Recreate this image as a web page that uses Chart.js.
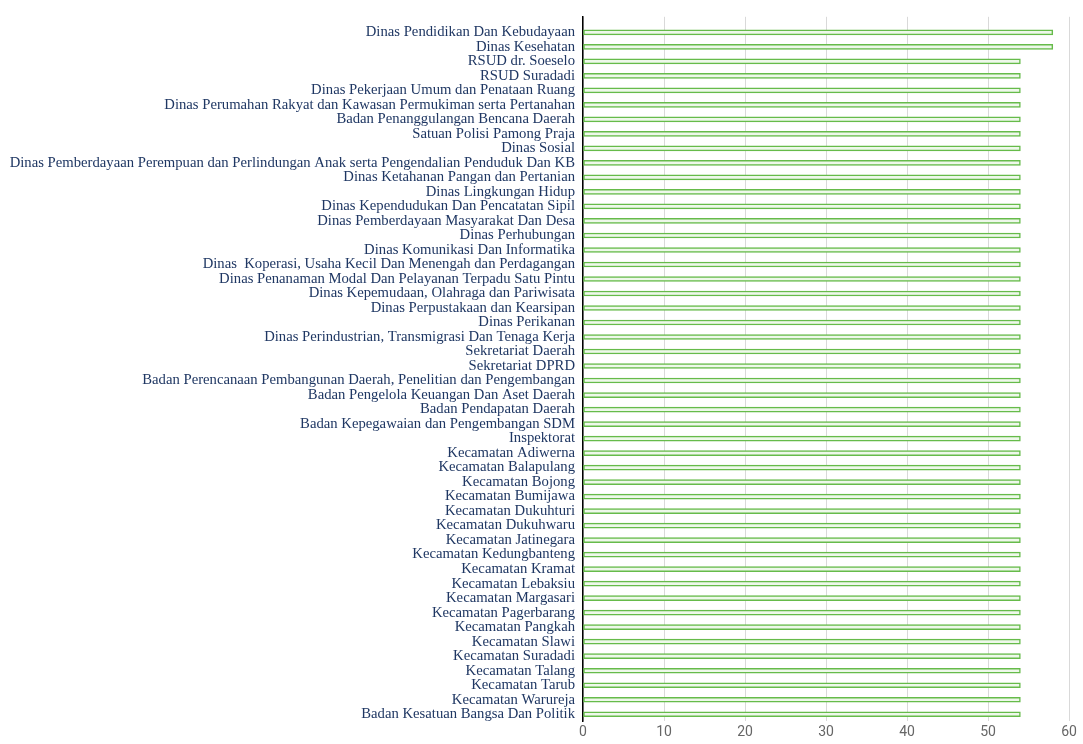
<!DOCTYPE html>
<html>
<head>
<meta charset="utf-8">
<title>Perangkat Daerah</title>
<script src="https://cdn.jsdelivr.net/npm/chart.js@4/dist/chart.umd.min.js"></script>
<style>
    html, body { margin: 0; padding: 0; background: #fff; }
    .wrap { position: relative; width: 1083px; height: 744px; }
</style>
</head>
<body>
<div class="wrap"><canvas id="opdChart"></canvas></div>
<script>
// ─── DATA ───
const units = [
    'Dinas Pendidikan Dan Kebudayaan',
    'Dinas Kesehatan',
    'RSUD dr. Soeselo',
    'RSUD Suradadi',
    'Dinas Pekerjaan Umum dan Penataan Ruang',
    'Dinas Perumahan Rakyat dan Kawasan Permukiman serta Pertanahan',
    'Badan Penanggulangan Bencana Daerah',
    'Satuan Polisi Pamong Praja',
    'Dinas Sosial',
    'Dinas Pemberdayaan Perempuan dan Perlindungan Anak serta Pengendalian Penduduk Dan KB',
    'Dinas Ketahanan Pangan dan Pertanian',
    'Dinas Lingkungan Hidup',
    'Dinas Kependudukan Dan Pencatatan Sipil',
    'Dinas Pemberdayaan Masyarakat Dan Desa',
    'Dinas Perhubungan',
    'Dinas Komunikasi Dan Informatika',
    'Dinas  Koperasi, Usaha Kecil Dan Menengah dan Perdagangan',
    'Dinas Penanaman Modal Dan Pelayanan Terpadu Satu Pintu',
    'Dinas Kepemudaan, Olahraga dan Pariwisata',
    'Dinas Perpustakaan dan Kearsipan',
    'Dinas Perikanan',
    'Dinas Perindustrian, Transmigrasi Dan Tenaga Kerja',
    'Sekretariat Daerah',
    'Sekretariat DPRD',
    'Badan Perencanaan Pembangunan Daerah, Penelitian dan Pengembangan',
    'Badan Pengelola Keuangan Dan Aset Daerah',
    'Badan Pendapatan Daerah',
    'Badan Kepegawaian dan Pengembangan SDM',
    'Inspektorat',
    'Kecamatan Adiwerna',
    'Kecamatan Balapulang',
    'Kecamatan Bojong',
    'Kecamatan Bumijawa',
    'Kecamatan Dukuhturi',
    'Kecamatan Dukuhwaru',
    'Kecamatan Jatinegara',
    'Kecamatan Kedungbanteng',
    'Kecamatan Kramat',
    'Kecamatan Lebaksiu',
    'Kecamatan Margasari',
    'Kecamatan Pagerbarang',
    'Kecamatan Pangkah',
    'Kecamatan Slawi',
    'Kecamatan Suradadi',
    'Kecamatan Talang',
    'Kecamatan Tarub',
    'Kecamatan Warureja',
    'Badan Kesatuan Bangsa Dan Politik'
];

const totals = [
    58, 58, 54, 54, 54, 54, 54, 54, 54, 54,
    54, 54, 54, 54, 54, 54, 54, 54, 54, 54,
    54, 54, 54, 54, 54, 54, 54, 54, 54, 54,
    54, 54, 54, 54, 54, 54, 54, 54, 54, 54,
    54, 54, 54, 54, 54, 54, 54, 54
];

const xTicks = [0, 10, 20, 30, 40, 50, 60];

(function () {
    'use strict';

    // ─── CHART ───
    // y is a reversed linear index axis so the rows can sit a little below the top of the plot,
    // the way the original leaves a gap above the first bar
    const ctx = document.getElementById('opdChart');
    const points = totals.map((v, i) => ({ x: v, y: i }));
    const yMin = -1.07, yMax = units.length - 0.52;

    new Chart(ctx, {
        type: 'bar',
        data: {
            datasets: [{
                data: points,
                backgroundColor: '#eef8ea',
                borderColor: '#66bb4a',
                borderWidth: 1.5,
                borderSkipped: false,
                barThickness: 5
            }]
        },
        options: {
            indexAxis: 'y',
            responsive: true,
            maintainAspectRatio: false,
            animation: false,
            layout: { padding: { top: 16, right: 14, left: 8, bottom: 0 } },
            plugins: {
                legend: { display: false },
                tooltip: { enabled: false }
            },
            scales: {
                x: {
                    min: xTicks[0],
                    max: xTicks[xTicks.length - 1],
                    afterBuildTicks: s => { s.ticks = xTicks.map(v => ({ value: v })); },
                    grid: { color: '#d9d9d9', lineWidth: 1, drawTicks: false },
                    border: { display: false },
                    ticks: {
                        color: '#666666',
                        padding: 3,
                        font: { family: 'Roboto', size: 14 }
                    }
                },
                y: {
                    type: 'linear',
                    reverse: true,
                    offset: false,   // bar charts add half a step at each end otherwise
                    bounds: 'data',
                    min: yMin,
                    max: yMax,
                    afterBuildTicks: s => { s.ticks = units.map((u, i) => ({ value: i })); },
                    // long names need more than half the canvas, so pin the width
                    afterFit: s => { s.width = 575; },
                    grid: { display: false, drawTicks: false },
                    border: { display: true, color: '#000000', width: 1.5 },
                    ticks: {
                        autoSkip: false,
                        color: '#1f3763',
                        padding: 8,
                        font: { family: 'Liberation Serif', size: 14.7 },
                        callback: v => units[v]
                    }
                }
            }
        }
    });
})();
</script>
</body>
</html>
